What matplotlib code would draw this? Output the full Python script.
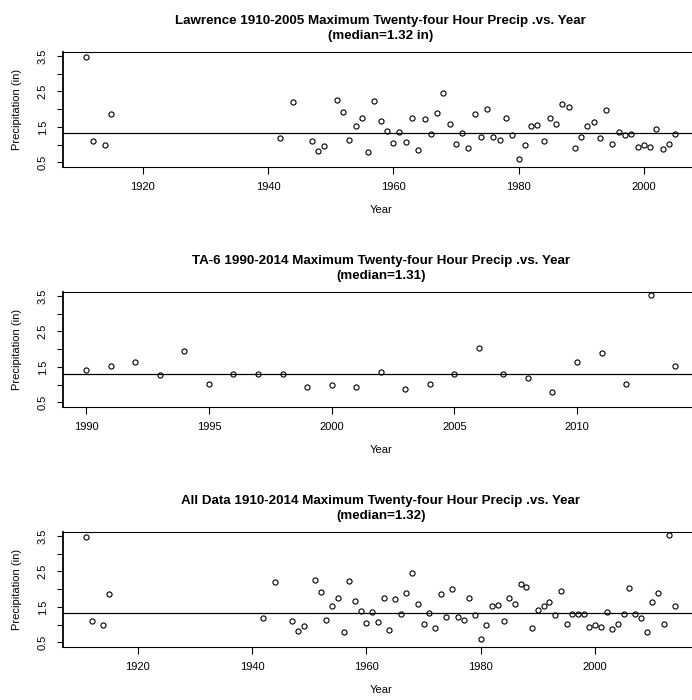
import numpy as np
import matplotlib
matplotlib.use("Agg")
import matplotlib.pyplot as plt

plt.rcParams['font.family'] = ['Liberation Sans', 'DejaVu Sans']

# ---- Lawrence station, annual max 24-hour precip (in) ----
lawrence_years = [1911, 1912, 1914, 1915, 1942, 1944, 1947, 1948, 1949] + list(range(1951, 2006))
lawrence_precip = [3.47, 1.09, 0.99, 1.87, 1.19, 2.20, 1.10, 0.81, 0.96,
                   2.25, 1.91, 1.13, 1.53, 1.75, 0.79, 2.22, 1.66, 1.38, 1.04,
                   1.35, 1.08, 1.75, 0.86, 1.72, 1.29, 1.88, 2.47, 1.57, 1.01,
                   1.32, 0.91, 1.86, 1.22, 2.00, 1.23, 1.12, 1.76, 1.27, 0.59,
                   0.99, 1.54, 1.55, 1.09, 1.75, 1.58, 2.16, 2.05, 0.91, 1.23,
                   1.52, 1.65, 1.19, 1.97, 1.01, 1.36, 1.27, 1.31, 0.94, 0.98,
                   0.94, 1.43, 0.88, 1.01, 1.31]

# ---- TA-6 station ----
ta6_years = list(range(1990, 2015))
ta6_precip = [1.40, 1.52, 1.65, 1.27, 1.95, 1.02, 1.29, 1.29, 1.31, 0.94,
              0.99, 0.94, 1.36, 0.89, 1.01, 1.31, 2.03, 1.30, 1.18, 0.80,
              1.63, 1.89, 1.01, 3.54, 1.54]

# ---- All data: Lawrence before 1990, TA-6 from 1990 on ----
all_years = [y for y in lawrence_years if y < 1990] + ta6_years
all_precip = [p for y, p in zip(lawrence_years, lawrence_precip) if y < 1990] + ta6_precip

titles = ["Lawrence 1910-2005 Maximum Twenty-four Hour Precip .vs. Year",
          "TA-6 1990-2014 Maximum Twenty-four Hour Precip .vs. Year",
          "All Data 1910-2014 Maximum Twenty-four Hour Precip .vs. Year"]
subtitles = ["(median=1.32 in)", "(median=1.31)", "(median=1.32)"]
medians = [1.32, 1.31, 1.32]
xticks = [[1920, 1940, 1960, 1980, 2000],
          [1990, 1995, 2000, 2005, 2010],
          [1920, 1940, 1960, 1980, 2000]]

W, H = 692, 700
fig = plt.figure(figsize=(W / 100, H / 100), dpi=100)

panels = [(lawrence_years, lawrence_precip), (ta6_years, ta6_precip), (all_years, all_precip)]
tops = [51.7, 291.7, 531.7]
left_px, right_px, h_px = 62.7, 698.7, 115

for i, (yrs, vals) in enumerate(panels):
    top = tops[i]
    ax = fig.add_axes([left_px / W, 1 - (top + h_px) / H, (right_px - left_px) / W, h_px / H])
    ax.plot(yrs, vals, 'o', mfc='none', mec='black', ms=3.7, mew=0.8)
    ax.axhline(medians[i], color='black', lw=0.9)

    # R-style 4% padding on the data range
    span = max(yrs) - min(yrs)
    ax.set_xlim(min(yrs) - 0.04 * span, max(yrs) + 0.04 * span)
    ax.set_ylim(0.5 - 0.12, 3.5 + 0.12)

    ax.set_xticks(xticks[i])
    ax.set_xticklabels([str(t) for t in xticks[i]])
    yt = [0.5, 1.0, 1.5, 2.0, 2.5, 3.0, 3.5]
    ax.set_yticks(yt)
    ax.set_yticklabels(['0.5', '', '1.5', '', '2.5', '', '3.5'])
    for lab in ax.get_yticklabels():
        lab.set_rotation(90)
        lab.set_ha('center')
        lab.set_va('center')
    ax.tick_params(axis='x', length=4.8, width=0.8, labelsize=8, pad=6.5)
    ax.tick_params(axis='y', length=4.3, width=0.8, labelsize=8, pad=10)
    for s in ax.spines.values():
        s.set_linewidth(0.8)
    ax.spines['left'].set_linewidth(1.3)

    ax.annotate(titles[i], xy=(0.5, 1), xycoords='axes fraction',
                xytext=(0, 31 * 0.72), textcoords='offset points',
                ha='center', va='center', fontsize=9.6, fontweight='bold')
    ax.annotate(subtitles[i], xy=(0.5, 1), xycoords='axes fraction',
                xytext=(0, 15.5 * 0.72), textcoords='offset points',
                ha='center', va='center', fontsize=9.6, fontweight='bold')
    ax.annotate("Year", xy=(0.5, 0), xycoords='axes fraction',
                xytext=(0, -43 * 0.72), textcoords='offset points',
                ha='center', va='center', fontsize=8)
    ax.annotate("Precipitation (in)", xy=(0, 0.5), xycoords='axes fraction',
                xytext=(-46 * 0.72, 0), textcoords='offset points',
                ha='center', va='center', rotation=90, fontsize=8)

fig.savefig("out.png", dpi=100)
